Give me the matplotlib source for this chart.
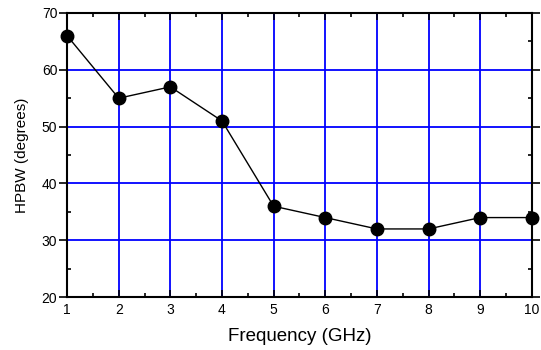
import numpy as np
import matplotlib.pyplot as plt
from matplotlib.ticker import MultipleLocator

plt.rcParams['font.family'] = ['Liberation Sans', 'DejaVu Sans']

freq = [1, 2, 3, 4, 5, 6, 7, 8, 9, 10]
hpbw = [66, 55, 57, 51, 36, 34, 32, 32, 34, 34]

fig = plt.figure(figsize=(5.41, 3.5), dpi=100)
ax = fig.add_axes([0.124, 0.151, 0.859, 0.812])

ax.plot(freq, hpbw, color="black", linewidth=1, marker="o", markersize=9,
        markerfacecolor="black", zorder=3, clip_on=False)

ax.set_xlim(1, 10)
ax.set_ylim(20, 70)
ax.xaxis.set_major_locator(MultipleLocator(1))
ax.xaxis.set_minor_locator(MultipleLocator(0.5))
ax.yaxis.set_major_locator(MultipleLocator(10))
ax.yaxis.set_minor_locator(MultipleLocator(5))

ax.grid(True, which="major", color="blue", linewidth=1.3)
ax.set_axisbelow(True)

ax.tick_params(which="both", direction="in", top=True, right=True,
               width=1.2, labelsize=10, pad=4)
ax.tick_params(which="major", length=5)
ax.tick_params(which="minor", length=3)
ax.tick_params(axis="y", which="major", direction="out", length=6, pad=1)
for s in ax.spines.values():
    s.set_linewidth(1.5)

ax.set_xlabel("Frequency (GHz)", fontsize=13.5, labelpad=8)
ax.set_ylabel("HPBW (degrees)", fontsize=11, labelpad=9)

fig.savefig("out.png", dpi=100)
